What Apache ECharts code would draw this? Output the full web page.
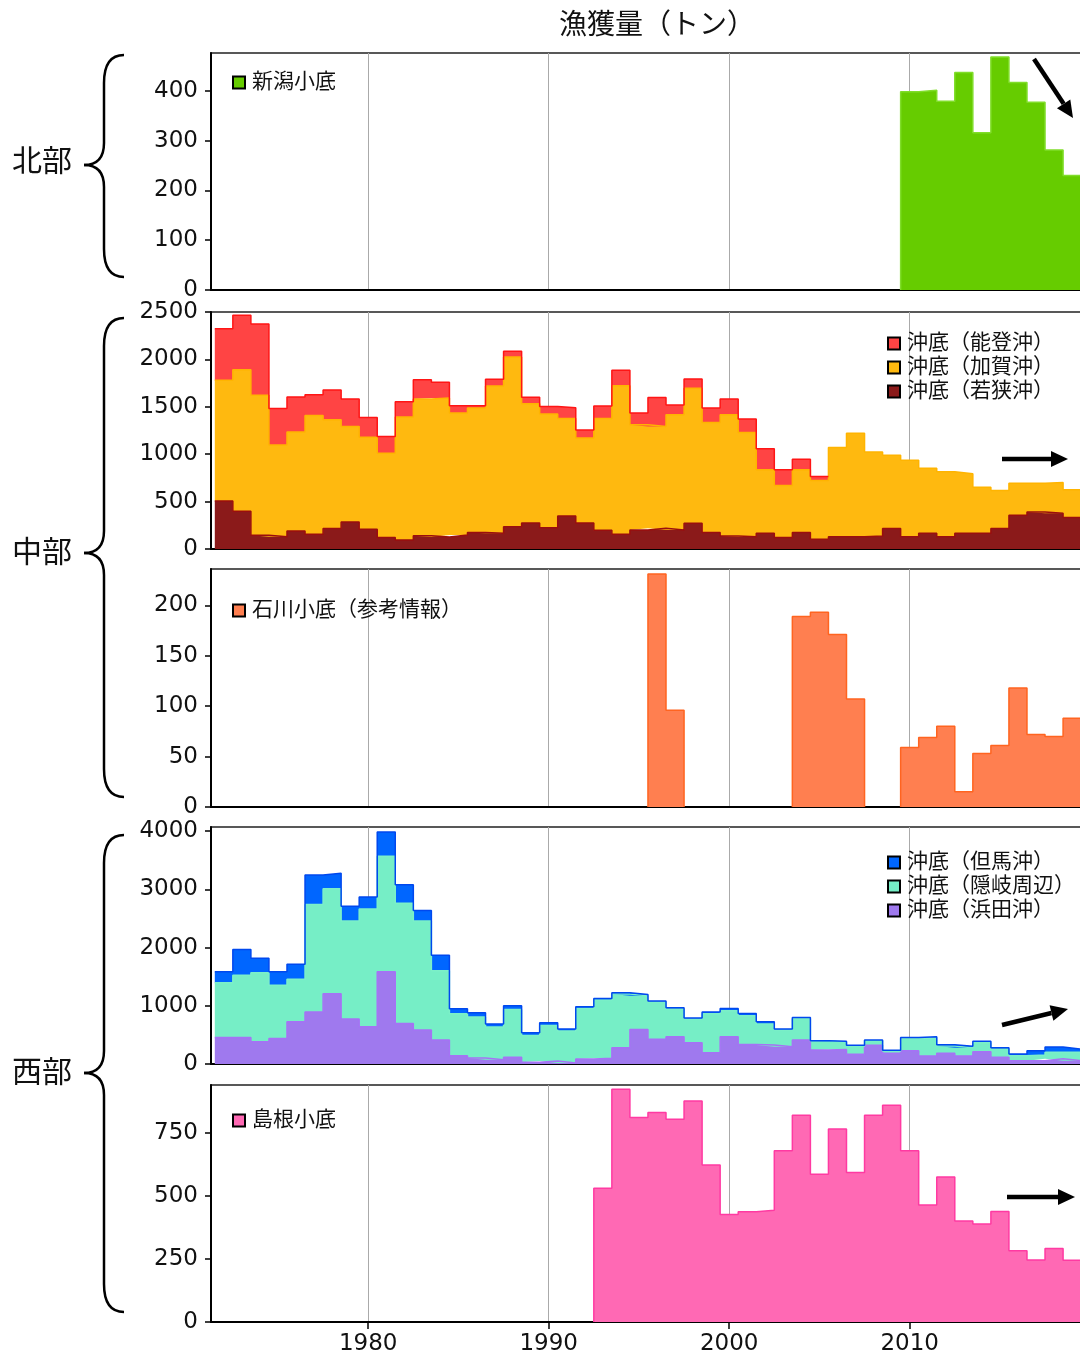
<!DOCTYPE html>
<html><head><meta charset="utf-8">
<script src="https://cdn.jsdelivr.net/npm/echarts@6/dist/echarts.min.js"></script>
<style>html,body{margin:0;padding:0;background:#fff}#c{width:1080px;height:1361px}</style>
</head><body><div id="c"></div>
<script>
// ---------- data ----------
const years = [1972,1973,1974,1975,1976,1977,1978,1979,1980,1981,1982,1983,1984,1985,1986,1987,1988,1989,1990,1991,1992,1993,1994,1995,1996,1997,1998,1999,2000,2001,2002,2003,2004,2005,2006,2007,2008,2009,2010,2011,2012,2013,2014,2015,2016,2017,2018,2019];
const xTicks = [1980,1990,2000,2010];

// 北部
const niigata = [null,null,null,null,null,null,null,null,null,null,null,null,null,null,null,null,null,null,null,null,null,null,null,null,null,null,null,null,null,null,null,null,null,null,null,null,null,null,
  398,401,379,437,316,468,417,377,281,230];
const yTicksNorth = [0,100,200,300,400];

// 中部（沖底）
const noto = [543,574,753,387,370,219,314,289,208,176,162,204,166,77,24,71,60,68,81,113,84,131,162,123,306,102,98,152,166,140,222,166,113,42,
  null,null,null,null,null,null,null,null,null,null,null,null,null,null];
const kaga = [1272,1494,1477,966,1043,1254,1148,1008,972,891,1297,1441,1465,1286,1314,1553,1790,1257,1198,1028,895,1180,1568,1110,1075,1215,1424,1162,1279,1100,669,549,662,620,
  941,1092,885,775,807,687,684,627,486,402,338,303,324,293];
const wakasa = [507,398,144,130,190,155,215,285,208,120,95,141,127,148,173,166,236,275,225,349,275,197,155,201,218,201,271,173,137,130,166,120,173,102,
  130,130,137,215,130,166,130,166,166,215,356,391,377,331];
const yTicksCentral = [0,500,1000,1500,2000,2500];

// 中部（石川小底）
const ishikawa = [null,null,null,null,null,null,null,null,null,null,null,null,null,null,null,null,null,null,null,null,null,null,null,null,
  231,96,null,null,null,null,null,null,189,193,171,107,null,null,59,69,80,15,53,61,118,72,70,88];
const yTicksIshikawa = [0,50,100,150,200];

// 西部（沖底）
const tajima = [189,440,251,229,257,509,263,251,205,417,320,177,268,86,74,52,63,46,46,34,29,29,23,23,17,23,18,28,40,40,40,17,23,6,12,11,11,11,17,18,22,23,23,23,28,75,91,57];
const oki = [937,1069,1183,914,731,1846,1805,1686,2023,1983,2063,1874,1189,720,703,560,823,462,612,549,868,1000,920,577,640,474,405,669,445,492,360,286,366,154,126,143,80,40,211,314,126,143,155,143,86,97,109,143];
const hamada = [457,457,383,440,726,891,1206,771,640,1583,697,583,411,143,103,74,114,29,51,17,86,97,280,594,423,469,366,194,469,337,326,297,411,240,251,166,320,183,229,137,183,137,211,114,57,57,91,57];
const yTicksWest = [0,1000,2000,3000,4000];

// 西部（島根小底）
const shimane = [null,null,null,null,null,null,null,null,null,null,null,null,null,null,null,null,null,null,null,null,null,
  530,923,811,831,804,877,623,426,437,443,679,820,586,765,593,820,860,679,464,575,401,389,438,283,246,292,245];
const yTicksShimane = [0,250,500,750];

// ---------- chart ----------
const FONT = "'DejaVu Sans', 'Noto Sans CJK JP', sans-serif";
const X_MIN = 1971.29, X_MAX = 2019.77;

// one step per year: left edge and right edge of each year carry that year's value.
// Items are [value, x] so that the stack (which uses the first numeric column) acts on the value.
function steps(vals, edges) {
  const out = [];
  for (let i = 0; i < years.length; i++) {
    const y = years[i], v = vals[i];
    if (v == null) { out.push(['-', y - 0.5], ['-', y + 0.5]); continue; }
    if (edges && i > 0 && vals[i - 1] == null) out.push([0, y - 0.5]);
    out.push([v, y - 0.5], [v, y + 0.5]);
    if (edges && i < years.length - 1 && vals[i + 1] == null) out.push([0, y + 0.5]);
  }
  return out;
}

const panels = [
  {top: 53,   height: 237, max: 476,  ticks: yTicksNorth},
  {top: 312,  height: 237, max: 2500, ticks: yTicksCentral},
  {top: 569,  height: 238, max: 236,  ticks: yTicksIshikawa},
  {top: 827,  height: 237, max: 4070, ticks: yTicksWest},
  {top: 1085, height: 237, max: 940,  ticks: yTicksShimane}
];

const plain = v => String(v);

const grid = panels.map(p => ({left: 211, width: 875, top: p.top, height: p.height,
  show: true, borderColor: '#222', borderWidth: 1.5, backgroundColor: 'transparent',
  containLabel: false, outerBoundsMode: 'none'}));

const xAxis = panels.map((p, i) => ({
  gridIndex: i, type: 'value', min: X_MIN, max: X_MAX,
  axisLine: {show: true, onZero: false, lineStyle: {color: '#000', width: 2}},
  axisTick: {show: i === 4, customValues: xTicks, length: 7, lineStyle: {color: '#000', width: 1.5}},
  axisLabel: {show: i === 4, customValues: xTicks, formatter: plain, fontSize: 23, color: '#111', margin: 11, fontFamily: FONT},
  splitLine: {show: true, lineStyle: {color: '#aaaaaa', width: 1}}
}));

const yAxis = panels.map((p, i) => ({
  gridIndex: i, type: 'value', min: 0, max: p.max,
  axisLine: {show: true, lineStyle: {color: '#000', width: 2}},
  axisTick: {show: true, customValues: p.ticks, length: 6, lineStyle: {color: '#000', width: 1.5}},
  axisLabel: {customValues: p.ticks, formatter: plain, fontSize: 23, color: '#111', margin: 13, fontFamily: FONT},
  splitLine: {show: false}
}));

function area(name, vals, idx, fill, stroke, stack, edges) {
  const s = {
    name, type: 'line', xAxisIndex: idx, yAxisIndex: idx,
    data: steps(vals, edges), encode: {x: 1, y: 0},
    color: fill, itemStyle: {color: fill},
    showSymbol: false, symbol: 'none', silent: true,
    lineStyle: {color: stroke, width: 1.5},
    areaStyle: {color: fill, opacity: 1},
    emphasis: {disabled: true}, animation: false
  };
  if (stack) s.stack = stack;
  return s;
}

const series = [
  area('新潟小底', niigata, 0, '#66CC00', '#80DD2A', null, true),
  area('沖底（若狭沖）', wakasa, 1, '#8B1A1A', '#9A0E0E', 'c'),
  area('沖底（加賀沖）', kaga, 1, '#FFB90F', '#FFB400', 'c'),
  area('沖底（能登沖）', noto, 1, '#FF4444', '#FF1515', 'c'),
  area('石川小底（参考情報）', ishikawa, 2, '#FF7F50', '#FF6420', null, true),
  area('沖底（浜田沖）', hamada, 3, '#9F79EE', '#A672F5', 'w'),
  area('沖底（隠岐周辺）', oki, 3, '#76EEC6', '#7CF0C8', 'w'),
  area('沖底（但馬沖）', tajima, 3, '#0066FF', '#0048EE', 'w'),
  area('島根小底', shimane, 4, '#FF69B4', '#FF3AA2', null, true)
];

function legend(data, left, top) {
  return {data, left, top, orient: 'vertical', icon: 'rect', itemWidth: 12, itemHeight: 12,
    itemGap: 3, selectedMode: false,
    itemStyle: {borderColor: '#000', borderWidth: 2},
    textStyle: {fontSize: 21, color: '#111', fontFamily: FONT, padding: [0, 0, 0, 2]}};
}

function arrow(x1, y1, x2, y2) {
  const a = Math.atan2(y2 - y1, x2 - x1), hl = 17, hw = 8;
  const bx = x2 - hl * Math.cos(a), by = y2 - hl * Math.sin(a);
  return [
    {type: 'line', shape: {x1, y1, x2: bx, y2: by}, style: {stroke: '#000', lineWidth: 4.5}, z: 100},
    {type: 'polygon', shape: {points: [[x2, y2], [bx - hw * Math.sin(a), by + hw * Math.cos(a)], [bx + hw * Math.sin(a), by - hw * Math.cos(a)]]},
     style: {fill: '#000'}, z: 100}
  ];
}

function brace(top, bot, mid) {
  const xr = 124, xs = 104, xt = 84;
  const st = {fill: null, stroke: '#000', lineWidth: 2.5};
  return [
    {type: 'bezierCurve', shape: {x1: xr, y1: top, cpx1: xs, cpy1: top, x2: xs, y2: top + 28}, style: st},
    {type: 'line', shape: {x1: xs, y1: top + 28, x2: xs, y2: mid - 22}, style: st},
    {type: 'bezierCurve', shape: {x1: xs, y1: mid - 22, cpx1: xs, cpy1: mid, x2: xt, y2: mid}, style: st},
    {type: 'bezierCurve', shape: {x1: xt, y1: mid, cpx1: xs, cpy1: mid, x2: xs, y2: mid + 22}, style: st},
    {type: 'line', shape: {x1: xs, y1: mid + 22, x2: xs, y2: bot - 28}, style: st},
    {type: 'bezierCurve', shape: {x1: xs, y1: bot - 28, cpx1: xs, cpy1: bot, x2: xr, y2: bot}, style: st}
  ];
}

function region(text, y) {
  return {type: 'text', x: 42, y, style: {text, fontSize: 30, fill: '#111', fontFamily: FONT,
    align: 'center', verticalAlign: 'middle'}};
}

const option = {
  animation: false,
  backgroundColor: '#fff',
  title: {text: '漁獲量（トン）', left: 554, top: 8,
    textStyle: {fontSize: 28, fontWeight: 'normal', color: '#111', fontFamily: FONT}},
  grid, xAxis, yAxis, series,
  legend: [
    legend(['新潟小底'], 227, 67),
    legend(['沖底（能登沖）', '沖底（加賀沖）', '沖底（若狭沖）'], 882, 328),
    legend(['石川小底（参考情報）'], 227, 595),
    legend(['沖底（但馬沖）', '沖底（隠岐周辺）', '沖底（浜田沖）'], 882, 847),
    legend(['島根小底'], 227, 1105)
  ],
  graphic: [
    ...brace(55, 277, 165), ...brace(318, 797, 553), ...brace(835, 1312, 1073),
    region('北部', 163), region('中部', 554), region('西部', 1074),
    ...arrow(1034, 59, 1073, 118),
    ...arrow(1002, 459, 1068, 459),
    ...arrow(1002, 1025, 1068, 1009),
    ...arrow(1007, 1197, 1075, 1197)
  ]
};

const chart = echarts.init(document.getElementById('c'), null, {renderer: 'canvas'});
chart.setOption(option);
</script></body></html>
